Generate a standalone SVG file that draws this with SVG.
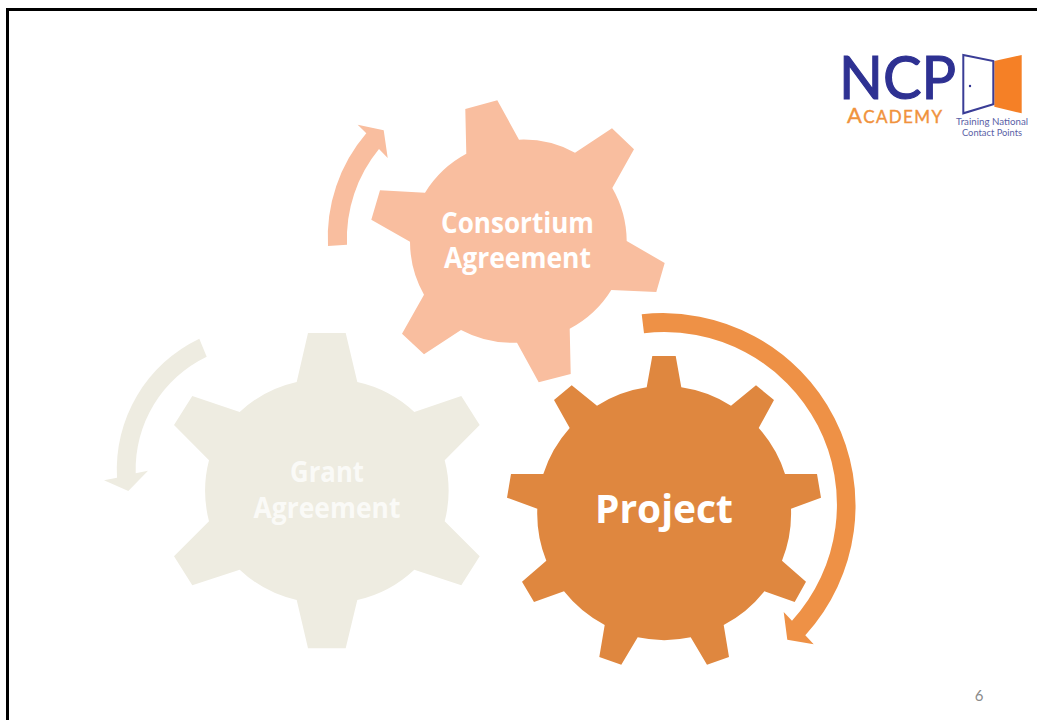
<svg xmlns="http://www.w3.org/2000/svg" width="1037" height="720" viewBox="0 0 1037 720">
<style>
.g{font-family:"Open Sans","Liberation Sans",sans-serif;font-weight:700;fill:#fff;text-anchor:middle}
.s{font-size:28px}
.l{font-family:Lato,"Liberation Sans",sans-serif}
.t{font-size:9.500px;fill:#5A5FA6;text-anchor:middle}
</style>
<rect width="1037" height="720" fill="#fff"/>
<path id="frame" d="M7.500 720V9.500H1037" fill="none" stroke="#000" stroke-width="3"/>
<g id="connectors">
<path id="arrow-project" fill="#EE9146" d="M641.700 314.300A192.500 192.500 0 0 1 805.300 635.300L813.700 644.300L787.300 639.700L783.700 612L792 620.700A172.500 172.500 0 0 0 644 333.300Z"/>
<path id="arrow-consortium" fill="#F9BE9F" d="M328 246A160 160 0 0 1 366.300 133.300L357.700 124.700L383.700 130.300L387.700 158L379 149A141 141 0 0 0 347 244.700Z"/>
<path id="arrow-grant" fill="#EEECE1" d="M199.300 338.700A145 145 0 0 0 117 477.700L104 480.300L128.300 491L148 470.700L135.700 473.300A125 125 0 0 1 206.700 356.700Z"/>
</g>
<g id="consortium">
<path fill="#F9BE9F" d="M465.300 109L497.300 100.300L519 139.700A108 108 0 0 1 575 152.700L612 128.300L634 149.300L612.300 188A108 108 0 0 1 626.700 241L664.700 263L656.300 292L611.300 290A108 108 0 0 1 569.700 328.700L570.700 374L538.700 382.300L517 342.700A108 108 0 0 1 461 330L424 354.300L402 333.700L424 294.700A108 108 0 0 1 410 241.700L371.300 219.700L380 190.300L425 192.700A108 108 0 0 1 466.300 153.700Z"/>
<text class="g s" x="517.500" y="233" textLength="153" lengthAdjust="spacingAndGlyphs">Consortium</text>
<text class="g s" x="517.500" y="268" textLength="147" lengthAdjust="spacingAndGlyphs">Agreement</text>
</g>
<g id="project">
<path fill="#DF873F" d="M652.300 356H675.700L681.300 387.300A127 127 0 0 1 731 405.700L756 385.300L774 400L758.700 428A127 127 0 0 1 785 474H817L821 497.700L791 508.700A127 127 0 0 1 782 560.700L806 581.700L794.700 602L764.300 591.300A127 127 0 0 1 723.700 625L729 657L707 664.700L690.700 637.300A127 127 0 0 1 637.700 637.300L621.300 664.700L599.300 657L604.700 625A127 127 0 0 1 564 591.300L534 602L522 581.700L546.300 560.700A127 127 0 0 1 537.300 508.700L507 497.700L511 474H543.300A127 127 0 0 1 569.700 428L554 400L571.700 385.300L597 405.700A127 127 0 0 1 646.700 387.300Z"/>
<text class="g" x="664" y="523" font-size="40" textLength="138" lengthAdjust="spacingAndGlyphs">Project</text>
</g>
<g id="grant">
<path fill="#EEECE1" d="M308 333H345.700L357.300 382A122 122 0 0 1 414.300 412L461.300 396L479.700 425L444.700 460.300A122 122 0 0 1 444.700 521.300L479.700 556.300L461.300 585.300L414.300 569.700A122 122 0 0 1 357.300 600L345.700 648.300H308L296.700 600A122 122 0 0 1 239.700 569.700L192.300 585.300L174 556.300L209 521.300A122 122 0 0 1 209 460.300L174 425L192.300 396L239.700 412A122 122 0 0 1 296.700 382Z"/>
<text class="g s" x="327" y="482" fill-opacity=".75" textLength="74" lengthAdjust="spacingAndGlyphs">Grant</text>
<text class="g s" x="327" y="518" fill-opacity=".75" textLength="147" lengthAdjust="spacingAndGlyphs">Agreement</text>
</g>
<g id="logo">
<text class="l" x="839" y="99" font-size="60" fill="#2E3192" stroke="#2E3192" stroke-width="1.200" textLength="117" lengthAdjust="spacingAndGlyphs">NCP</text>
<text class="l" x="847" y="123" font-size="22" fill="#F0923C" stroke="#F0923C" stroke-width=".4" textLength="95">A<tspan font-size="17">CADEMY</tspan></text>
<path fill="#F58026" d="M994.300 61L1021.700 55V113.300L994.300 106.700Z"/>
<path fill="#fff" stroke="#3A3D96" stroke-width="2" d="M963.300 55L993.300 61V104.300L963.300 113.300Z"/>
<circle cx="970" cy="86" r="1.200" fill="#2E3192"/>
<text class="l t" x="992" y="125" textLength="72" lengthAdjust="spacingAndGlyphs">Training National</text>
<text class="l t" x="992" y="136" textLength="60" lengthAdjust="spacingAndGlyphs">Contact Points</text>
</g>
<text id="page" x="979" y="701" font-family="Lato,sans-serif" font-size="15" fill="#8a8a8a" text-anchor="middle">6</text>
</svg>
